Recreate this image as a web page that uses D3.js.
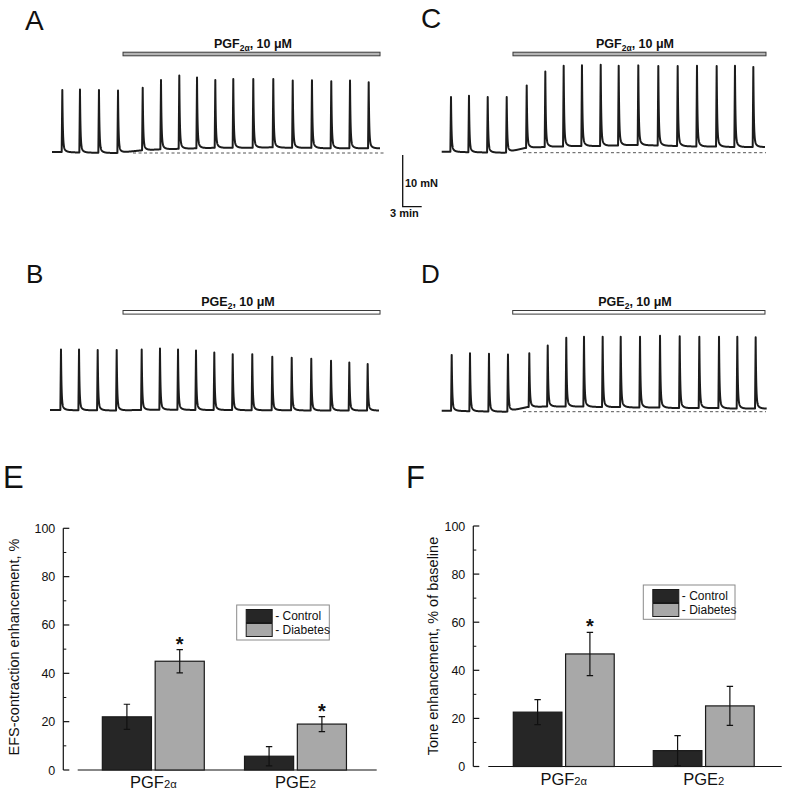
<!DOCTYPE html>
<html><head><meta charset="utf-8">
<script src="https://cdn.jsdelivr.net/npm/d3@7"></script>
<style>
body{margin:0;background:#fff}
svg{display:block}
text{font-family:"Liberation Sans",Arial,Helvetica,sans-serif;fill:#111}
</style>
</head><body>
<svg id="fig" width="787" height="792"></svg>
<script>
// ================= DATA =================
// Isometric traces: spike times (min), spike peak force (mN), baseline tone before each spike (mN)
const spikeTimesA = [1.63, 4.42, 7.42, 10.43, 14.33, 17.22, 20.11, 22.91, 25.8, 28.64, 31.8, 34.96, 38.03, 41.07, 44.12, 47.08, 50.03];
const spikePeaksA = [12.2, 12.3, 12.2, 12.05, 12.6, 14.1, 15.0, 14.6, 14.1, 14.3, 14.3, 14.3, 14.0, 14.1, 13.9, 14.0, 13.7];
const toneA       = [0.2, 0.1, 0.05, 0.0, 0.5, 0.7, 0.8, 0.9, 1.0, 1.0, 1.0, 1.1, 1.0, 1.0, 0.9, 0.9, 0.9];

const spikeTimesB = [1.42, 4.27, 7.22, 10.22, 14.17, 17.06, 19.91, 22.75, 25.64, 28.55, 31.64, 34.8, 37.87, 40.96, 44.08, 46.97, 49.87];
const spikePeaksB = [11.9, 11.9, 11.8, 11.8, 11.9, 12.1, 11.9, 11.7, 11.3, 11.0, 11.0, 10.5, 10.3, 10.1, 9.7, 9.4, 9.1];
const toneB       = [0.2, 0.15, 0.15, 0.1, 0.2, 0.25, 0.25, 0.2, 0.2, 0.2, 0.15, 0.15, 0.15, 0.1, 0.1, 0.1, 0.1];

const spikeTimesC = [1.47, 4.31, 7.27, 10.27, 13.43, 16.37, 19.27, 22.16, 25.12, 27.96, 31.06, 34.22, 37.28, 40.33, 43.44, 46.33, 49.23];
const spikePeaksC = [10.8, 11.0, 10.8, 10.7, 13.0, 15.7, 16.8, 16.9, 17.0, 16.8, 16.9, 16.8, 16.8, 16.8, 16.8, 16.8, 16.6];
const toneC       = [0.2, 0.1, 0.05, 0.0, 0.9, 1.1, 1.2, 1.3, 1.3, 1.4, 1.5, 1.4, 1.3, 1.2, 1.2, 1.1, 1.1];

const spikeTimesD = [1.58, 4.47, 7.47, 10.47, 13.84, 16.75, 19.68, 22.48, 25.43, 28.28, 31.33, 34.49, 37.6, 40.7, 43.81, 46.7, 49.6];
const spikePeaksD = [11.0, 11.3, 11.2, 11.0, 11.3, 12.8, 14.3, 14.5, 14.5, 14.5, 14.5, 14.7, 14.6, 14.5, 14.5, 14.5, 14.4];
const toneD       = [0.2, 0.1, 0.05, 0.0, 0.9, 1.0, 1.0, 1.0, 0.9, 0.9, 0.8, 0.8, 0.7, 0.7, 0.7, 0.6, 0.6];

// Recording windows and drug application windows (min)
const traceRangeA = [0, 51.82], drugA = [11.22, 51.82], dashA = [12.8, 52.6];
const traceRangeB = [-0.32, 51.66], drugB = [11.22, 51.82];
const traceRangeC = [0, 51.07], drugC = [11.26, 51.23], dashC = [12.84, 51.23];
const traceRangeD = [0, 51.34], drugD = [11.22, 51.07], dashD = [12.84, 51.23];

// Scale bar
const scaleBarForce = 10;   // mN
const scaleBarTime = 3;     // min

// Bar charts
const categories = ["PGF2α", "PGE2"];
const groups = ["Control", "Diabetes"];
const efsControl = [22.0, 5.7];
const efsControlErr = [5.2, 4.0];
const efsDiabetes = [45.0, 19.0];
const efsDiabetesErr = [4.8, 3.1];
const efsSignif = [false, false, true, true]; // ctrl PGF, ctrl PGE, diab PGF, diab PGE

const toneCtrl = [22.6, 6.6];
const toneCtrlErr = [5.2, 6.2];
const toneDiab = [46.8, 25.2];
const toneDiabErr = [9.0, 8.1];
const toneSignif = [false, false, true, false];

const yTicks = [0, 20, 40, 60, 80, 100];
const yMinorTicks = [10, 30, 50, 70, 90];

// ================= DRAWING =================
const svg = d3.select("#fig");
const PX_PER_MIN = 6.33, PX_PER_MN = 5.17;
const colCtrl = "#262626", colDiab = "#a8a8a8";

function panelLetter(txt, x, y, size) {
  svg.append("text").attr("x", x).attr("y", y).attr("font-size", size).text(txt);
}

function buildTrace(times, peaks, tones, range) {
  const toneAt = d3.scaleLinear().domain(times.map(t => t - 0.3)).range(tones).clamp(true);
  const pts = [];
  const tset = d3.range(range[0], range[1], 0.01);
  times.forEach(t => { tset.push(t); tset.push(t - 0.1); });
  tset.push(range[1]);
  tset.sort((a, b) => a - b);
  tset.forEach(t => {
    let v = toneAt(t);
    times.forEach((ts, i) => {
      const a = peaks[i] - tones[i];
      const d = t - ts;
      if (d >= -0.1 && d < 0) v += a * (1 + d / 0.1);
      else if (d >= 0) v += a * (0.88 * Math.exp(-d / 0.08) + 0.12 * Math.exp(-d / 0.34));
    });
    pts.push([t, v]);
  });
  return pts;
}

function labelWithSub(g, x, y, main, sub, after, size, bold, subShift) {
  const t = g.append("text").attr("x", x).attr("y", y).attr("text-anchor", "middle")
    .attr("font-size", size).attr("font-weight", bold ? "bold" : "normal");
  t.append("tspan").text(main);
  t.append("tspan").attr("font-size", size * 0.68).attr("dy", subShift).text(sub);
  if (after) t.append("tspan").attr("dy", -subShift).text(after);
  return t;
}

function tracePanel(cfg) {
  const x = d3.scaleLinear().domain([0, 1]).range([cfg.x0, cfg.x0 + PX_PER_MIN]);
  const y = d3.scaleLinear().domain([0, 1]).range([cfg.y0, cfg.y0 - PX_PER_MN]);
  const g = svg.append("g");
  // drug bar
  g.append("rect").attr("x", x(cfg.drug[0])).attr("y", cfg.barY - 1.8)
    .attr("width", x(cfg.drug[1]) - x(cfg.drug[0])).attr("height", 3.6)
    .attr("fill", cfg.barFill).attr("stroke", "#3a3a3a").attr("stroke-width", 1);
  labelWithSub(g, cfg.labelX, cfg.barY - 6, cfg.drugMain, cfg.drugSub, ", 10 μM", 12.5, true, 2.5);
  // dashed baseline
  if (cfg.dash) {
    g.append("line").attr("x1", x(cfg.dash[0])).attr("x2", x(cfg.dash[1]))
      .attr("y1", y(0)).attr("y2", y(0))
      .attr("stroke", "#555").attr("stroke-width", 1).attr("stroke-dasharray", "3,2.5");
  }
  const pts = buildTrace(cfg.times, cfg.peaks, cfg.tones, cfg.range);
  g.append("path").datum(pts)
    .attr("d", d3.line().x(d => x(d[0])).y(d => y(d[1])))
    .attr("fill", "none").attr("stroke", "#1c1c1c").attr("stroke-width", 2)
    .attr("stroke-linejoin", "round");
  return {x, y};
}

panelLetter("A", 25, 30, 28);
panelLetter("C", 421, 28, 28);
panelLetter("B", 26, 283, 26);
panelLetter("D", 421, 283, 26);

tracePanel({x0: 52, y0: 153, range: traceRangeA, times: spikeTimesA, peaks: spikePeaksA, tones: toneA,
  drug: drugA, dash: dashA, barY: 54, barFill: "#b4b4b4", labelX: 253, drugMain: "PGF", drugSub: "2α"});
tracePanel({x0: 52, y0: 411, range: traceRangeB, times: spikeTimesB, peaks: spikePeaksB, tones: toneB,
  drug: drugB, dash: null, barY: 312.3, barFill: "#ffffff", labelX: 238, drugMain: "PGE", drugSub: "2"});
const sc = tracePanel({x0: 441.7, y0: 152.7, range: traceRangeC, times: spikeTimesC, peaks: spikePeaksC, tones: toneC,
  drug: drugC, dash: dashC, barY: 54, barFill: "#b4b4b4", labelX: 635, drugMain: "PGF", drugSub: "2α"});
tracePanel({x0: 441.7, y0: 411.7, range: traceRangeD, times: spikeTimesD, peaks: spikePeaksD, tones: toneD,
  drug: drugD, dash: dashD, barY: 312.3, barFill: "#ffffff", labelX: 635, drugMain: "PGE", drugSub: "2"});

// scale bar
{
  const sx = 402.7, sy = 206.7;
  const h = Math.abs(sc.y(scaleBarForce) - sc.y(0));
  const w = sc.x(scaleBarTime) - sc.x(0);
  svg.append("path").attr("d", `M${sx},${sy - h}V${sy}H${sx + w}`)
    .attr("fill", "none").attr("stroke", "#111").attr("stroke-width", 1.3);
  svg.append("text").attr("x", 405).attr("y", 187).attr("font-size", 11).attr("font-weight", "bold").text(scaleBarForce + " mN");
  svg.append("text").attr("x", 390).attr("y", 217).attr("font-size", 11).attr("font-weight", "bold").text(scaleBarTime + " min");
}

// ---------------- bar charts ----------------
function barPanel(cfg) {
  const g = svg.append("g");
  const y = d3.scaleLinear().domain([0, 100]).range([cfg.y0, cfg.y100]);
  const x0 = d3.scaleBand().domain(categories).range(cfg.bandRange).paddingInner(cfg.padIn).paddingOuter(cfg.padOut);
  const x1 = d3.scaleBand().domain(groups).range([0, x0.bandwidth()]).paddingInner(0.07);
  // y axis
  const ax = g.append("g").attr("transform", `translate(${cfg.axisX},0)`);
  ax.append("line").attr("y1", y(0)).attr("y2", y(100)).attr("stroke", "#111").attr("stroke-width", 1.2);
  ax.selectAll(".maj").data(yTicks).join("line").attr("x1", 0).attr("x2", 6)
    .attr("y1", d => y(d)).attr("y2", d => y(d)).attr("stroke", "#111").attr("stroke-width", 1.2);
  ax.selectAll(".min").data(yMinorTicks).join("line").attr("x1", 0).attr("x2", 3)
    .attr("y1", d => y(d)).attr("y2", d => y(d)).attr("stroke", "#111").attr("stroke-width", 1);
  ax.selectAll("text.tl").data(yTicks).join("text").attr("class", "tl")
    .attr("x", -8).attr("y", d => y(d) + 4.5).attr("text-anchor", "end").attr("font-size", 12.5).text(d => d);
  // y title
  g.append("text").attr("transform", `translate(${cfg.titleX},${cfg.titleY}) rotate(-90)`)
    .attr("text-anchor", "middle").attr("font-size", 14.5).text(cfg.title);
  // x axis
  g.append("line").attr("x1", cfg.xAxis[0]).attr("x2", cfg.xAxis[1]).attr("y1", y(0)).attr("y2", y(0))
    .attr("stroke", "#111").attr("stroke-width", 1.2);
  // bars
  const rows = [];
  groups.forEach((grp, gi) => categories.forEach((cat, ci) => {
    rows.push({cat, grp, v: cfg.values[gi][ci], e: cfg.errs[gi][ci], sig: cfg.signif[gi * 2 + ci]});
  }));
  rows.forEach(r => {
    const bx = x0(r.cat) + x1(r.grp), bw = x1.bandwidth();
    g.append("rect").attr("x", bx).attr("y", y(r.v)).attr("width", bw).attr("height", y(0) - y(r.v))
      .attr("fill", r.grp === "Control" ? colCtrl : colDiab).attr("stroke", "#1a1a1a").attr("stroke-width", 1.2);
    const cx = bx + bw / 2;
    const top = y(r.v + r.e), bot = y(Math.max(0, r.v - r.e));
    g.append("path").attr("d", `M${cx - 3.2},${top}H${cx + 3.2}M${cx},${top}V${bot}M${cx - 3.2},${bot}H${cx + 3.2}`)
      .attr("stroke", "#111").attr("stroke-width", 1.2).attr("fill", "none");
    if (r.sig) g.append("text").attr("x", cx).attr("y", top + 1).attr("text-anchor", "middle")
      .attr("font-size", 20).attr("font-weight", "bold").text("*");
  });
  // category labels
  categories.forEach(cat => {
    const cx = x0(cat) + x0.bandwidth() / 2;
    const m = cat.match(/^(PG[A-Z])(.*)$/);
    labelWithSub(g, cx, cfg.labelY, m[1], m[2], null, 16.5, false, 0);
  });
  // legend
  const L = cfg.legend;
  g.append("rect").attr("x", L.x).attr("y", L.y).attr("width", L.w).attr("height", L.h)
    .attr("fill", "#fff").attr("stroke", "#8a8a8a").attr("stroke-width", 1);
  groups.forEach((grp, i) => {
    g.append("rect").attr("x", L.x + 9.5).attr("y", L.y + 4.5 + i * 14).attr("width", 26).attr("height", 13)
      .attr("fill", grp === "Control" ? colCtrl : colDiab).attr("stroke", "#1a1a1a").attr("stroke-width", 1);
    g.append("text").attr("x", L.x + 38.5).attr("y", L.y + 15 + i * 14).attr("font-size", 12).text("- " + grp);
  });
}

panelLetter("E", 3, 488, 31);
panelLetter("F", 406, 488, 31);

barPanel({y0: 770, y100: 528.3, axisX: 63.3, xAxis: [77.7, 376.7], bandRange: [74.9, 373.9], padIn: 0.283, padOut: 0.193,
  title: "EFS-contraction enhancement, %", titleX: 19, titleY: 647, labelY: 788,
  values: [efsControl, efsDiabetes], errs: [efsControlErr, efsDiabetesErr], signif: efsSignif,
  legend: {x: 236.7, y: 605, w: 92.6, h: 35}});
barPanel({y0: 766.5, y100: 526, axisX: 473.3, xAxis: [488.3, 781.7], bandRange: [488.1, 779.4], padIn: 0.279, padOut: 0.18,
  title: "Tone enhancement, % of baseline", titleX: 438, titleY: 646, labelY: 785,
  values: [toneCtrl, toneDiab], errs: [toneCtrlErr, toneDiabErr], signif: toneSignif,
  legend: {x: 643.3, y: 585, w: 91.7, h: 34.3}});
</script>
</body></html>
